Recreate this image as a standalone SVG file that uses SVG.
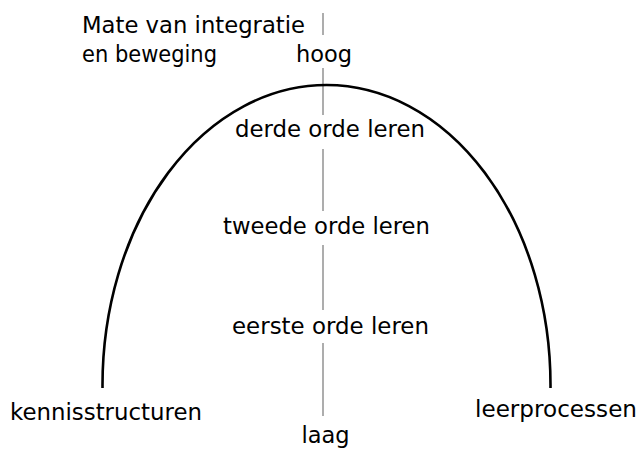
<svg xmlns="http://www.w3.org/2000/svg" width="640" height="449" viewBox="0 0 640 449">
<style>
text{font-family:"DejaVu Sans","Liberation Sans",sans-serif;font-size:22.5px;fill:#000}
.ax{stroke:#777;stroke-width:1.2;fill:none}
.arc{stroke:#000;stroke-width:2.6;fill:none}
</style>
<rect width="640" height="449" fill="#fff"/>
<g id="connectors">
<path class="ax" d="M323,13V35M323,68V115M323,149V211M323,245V310M323,343V416"/>
<path class="arc" d="M102.5,388V385A224,300 0 0 1 550.5,385V388"/>
</g>
<g id="axis-title"><text x="82" y="33" textLength="223" lengthAdjust="spacingAndGlyphs">Mate van integratie</text><text x="82" y="61.5" textLength="135" lengthAdjust="spacingAndGlyphs">en beweging</text></g>
<g id="hoog"><text x="324" y="61.5" text-anchor="middle">hoog</text></g>
<g id="derde"><text x="235" y="137" textLength="190" lengthAdjust="spacingAndGlyphs">derde orde leren</text></g>
<g id="tweede"><text x="223" y="234" textLength="207" lengthAdjust="spacingAndGlyphs">tweede orde leren</text></g>
<g id="eerste"><text x="232" y="334" textLength="197" lengthAdjust="spacingAndGlyphs">eerste orde leren</text></g>
<g id="kennisstructuren"><text x="10" y="420" textLength="192" lengthAdjust="spacingAndGlyphs">kennisstructuren</text></g>
<g id="leerprocessen"><text x="475" y="417" textLength="162" lengthAdjust="spacingAndGlyphs">leerprocessen</text></g>
<g id="laag"><text x="325.5" y="443" text-anchor="middle">laag</text></g>
</svg>
